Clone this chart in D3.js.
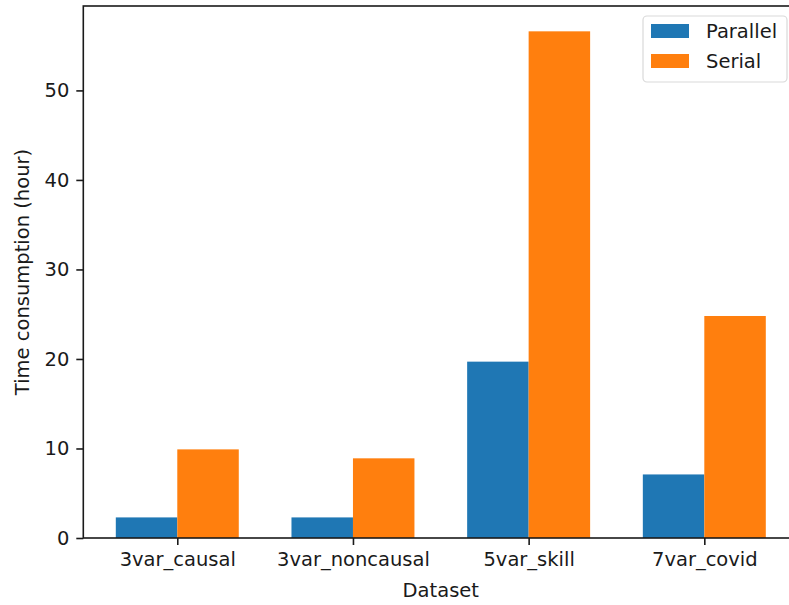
<!DOCTYPE html>
<html>
<head>
<meta charset="utf-8">
<script src="https://cdn.jsdelivr.net/npm/d3@7"></script>
<style>
  html, body { margin: 0; padding: 0; background: #fff; }
  svg { display: block; }
  text { font-family: "DejaVu Sans", sans-serif; fill: #1a1a1a; }
</style>
</head>
<body>
<svg id="chart" width="789" height="605"></svg>
<script>
// Datasets and timing per execution mode (hours)
const categories = ["3var_causal", "3var_noncausal", "5var_skill", "7var_covid"];
const parallelHours = [2.3, 2.3, 19.7, 7.1];
const serialHours = [9.9, 8.9, 56.6, 24.8];
const yTicks = [0, 10, 20, 30, 40, 50];
const seriesNames = ["Parallel", "Serial"];
const seriesColors = ["#1f77b4", "#ff7f0e"];

const W = 789, H = 605;
const plot = { left: 83.3, right: 798.3, top: 6, bottom: 538 };
const fontPx = 19.5;
const barWidth = 0.35;

const svg = d3.select("#chart");

// matplotlib-style auto limits: 5% margins around bar extents
const xMin = -barWidth * 1.0, xMax = categories.length - 1 + barWidth;
const xPad = (xMax - xMin) * 0.05;
const x = d3.scaleLinear()
  .domain([xMin - xPad, xMax + xPad])
  .range([plot.left, plot.right]);

const yMax = d3.max(serialHours.concat(parallelHours)) * 1.05;
const y = d3.scaleLinear().domain([0, yMax]).range([plot.bottom, plot.top]);

const series = [parallelHours, serialHours];
const offsets = [-barWidth / 2, barWidth / 2];

// bars
series.forEach((vals, s) => {
  svg.append("g")
    .selectAll("rect")
    .data(vals)
    .join("rect")
    .attr("x", (d, i) => x(i + offsets[s] - barWidth / 2))
    .attr("width", (d, i) => x(i + offsets[s] + barWidth / 2) - x(i + offsets[s] - barWidth / 2))
    .attr("y", d => y(d))
    .attr("height", d => y(0) - y(d))
    .attr("fill", seriesColors[s]);
});

// axes
const xAxis = d3.axisBottom(x)
  .tickValues(d3.range(categories.length))
  .tickFormat(i => categories[i])
  .tickSize(7).tickPadding(7);
const gx = svg.append("g")
  .attr("transform", `translate(0,${plot.bottom})`)
  .call(xAxis);

const yAxis = d3.axisLeft(y)
  .tickValues(yTicks)
  .tickFormat(d3.format("d"))
  .tickSize(7).tickPadding(7);
const gy = svg.append("g")
  .attr("transform", `translate(${plot.left},0)`)
  .call(yAxis);

[gx, gy].forEach(g => {
  g.select(".domain").remove();
  g.selectAll(".tick line").attr("stroke", "#1a1a1a").attr("stroke-width", 1.6);
  g.selectAll(".tick text")
    .style("font-family", "'DejaVu Sans', sans-serif")
    .style("font-size", fontPx + "px")
    .attr("fill", "#1a1a1a");
});

// frame (spines)
svg.append("rect")
  .attr("x", plot.left).attr("y", plot.top)
  .attr("width", plot.right - plot.left).attr("height", plot.bottom - plot.top)
  .attr("fill", "none").attr("stroke", "#1a1a1a").attr("stroke-width", 1.6);

// axis titles
svg.append("text")
  .attr("x", (plot.left + plot.right) / 2)
  .attr("y", 597)
  .attr("text-anchor", "middle")
  .style("font-size", fontPx + "px")
  .text("Dataset");

svg.append("text")
  .attr("transform", `translate(29,${(plot.top + plot.bottom) / 2}) rotate(-90)`)
  .attr("text-anchor", "middle")
  .style("font-size", fontPx + "px")
  .text("Time consumption (hour)");

// legend
const legend = svg.append("g");
legend.append("rect")
  .attr("x", 643).attr("y", 16)
  .attr("width", 144).attr("height", 66)
  .attr("rx", 4)
  .attr("fill", "#fff").attr("fill-opacity", 0.8)
  .attr("stroke", "#d9d9d9").attr("stroke-width", 1.2);

seriesNames.forEach((name, i) => {
  const cy = 31 + i * 30;
  legend.append("rect")
    .attr("x", 651).attr("y", cy - 7)
    .attr("width", 38).attr("height", 14)
    .attr("fill", seriesColors[i]);
  legend.append("text")
    .attr("x", 706).attr("y", cy)
    .attr("dy", "0.36em")
    .style("font-size", fontPx + "px")
    .text(name);
});
</script>
</body>
</html>
